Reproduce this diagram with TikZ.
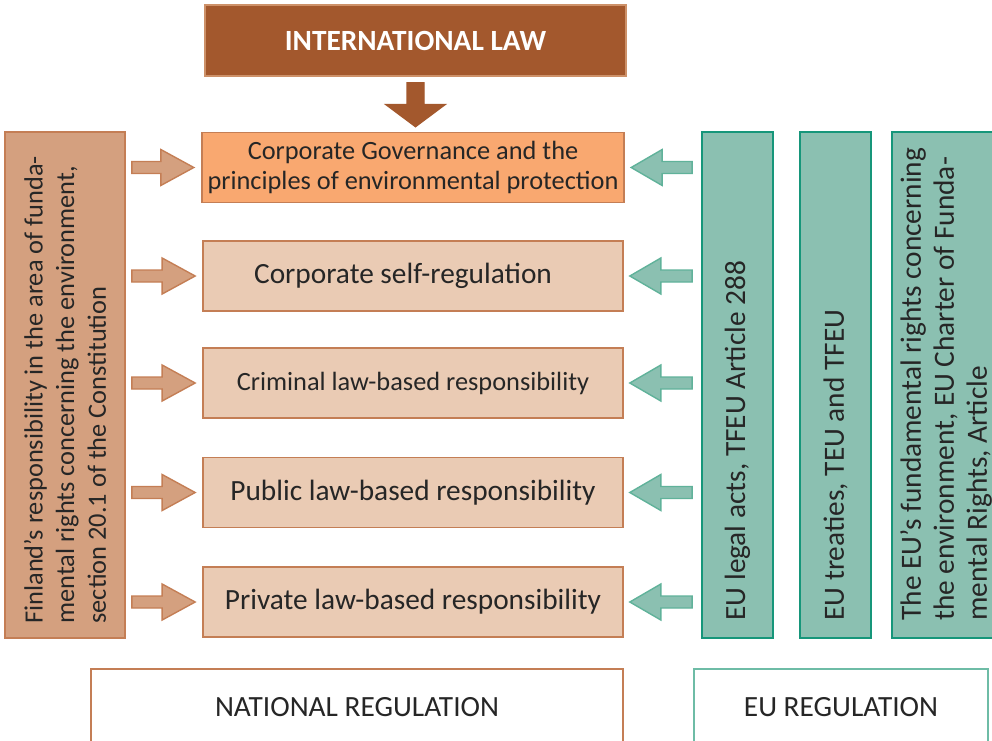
\documentclass[tikz,border=0pt]{standalone}
\usepackage{fontspec}
\setmainfont{Carlito}
\usetikzlibrary{positioning, calc}
\definecolor{intlcol}{RGB}{163, 88, 45}
\definecolor{intledgecol}{RGB}{205, 145, 105}
\definecolor{govcol}{RGB}{249, 168, 112}
\definecolor{rowcol}{RGB}{234, 203, 180}
\definecolor{rowedgecol}{RGB}{196, 126, 85}
\definecolor{fincol}{RGB}{212, 160, 127}
\definecolor{eucol}{RGB}{139, 192, 177}
\definecolor{euedgecol}{RGB}{22, 150, 122}
\definecolor{euarrowcol}{RGB}{96, 178, 154}
\definecolor{eulightcol}{RGB}{110, 188, 166}
\definecolor{textcol}{RGB}{38, 38, 38}

% block arrows between two nodes
\newcommand{\toright}[2]{%
  \filldraw[finarrow] let \p1=(#1), \p2=(#2) in
    (\x1+0.12cm,\y2+0.12cm) -- (\x2-0.80cm,\y2+0.12cm) -- (\x2-0.80cm,\y2+0.36cm) -- (\x2-0.14cm,\y2)
    -- (\x2-0.80cm,\y2-0.36cm) -- (\x2-0.80cm,\y2-0.12cm) -- (\x1+0.12cm,\y2-0.12cm) -- cycle;}
\newcommand{\toleft}[2]{%
  \filldraw[euarrow] let \p1=(#1), \p2=(#2) in
    (\x1-0.18cm,\y2+0.12cm) -- (\x2+0.74cm,\y2+0.12cm) -- (\x2+0.74cm,\y2+0.36cm) -- (\x2+0.12cm,\y2)
    -- (\x2+0.74cm,\y2-0.36cm) -- (\x2+0.74cm,\y2-0.12cm) -- (\x1-0.18cm,\y2-0.12cm) -- cycle;}
\newcommand{\todown}[2]{%
  \filldraw[intlarrow] let \p1=(#1), \p2=(#2) in
    (\x1-0.17cm,\y1-0.12cm) -- (\x1-0.17cm,\y2+0.54cm) -- (\x1-0.59cm,\y2+0.54cm) -- (\x1,\y2+0.10cm)
    -- (\x1+0.59cm,\y2+0.54cm) -- (\x1+0.17cm,\y2+0.54cm) -- (\x1+0.17cm,\y1-0.12cm) -- cycle;}

\begin{document}
\begin{tikzpicture}[
    x=0.02cm, y=-0.02cm,
    big/.style={font=\fontsize{16.7}{19}\selectfont},
    small/.style={font=\fontsize{15}{18}\selectfont},
    base/.style={line width=1pt, text=textcol, big, align=center},
    intl/.style={base, draw=intledgecol, fill=intlcol, text=white, font=\fontsize{16.7}{19}\selectfont\bfseries, minimum width=8.42cm, minimum height=1.42cm},
    row/.style={base, draw=rowedgecol, fill=rowcol, minimum width=8.4cm, minimum height=1.40cm},
    finbox/.style={base, draw=rowedgecol, fill=fincol, rotate=90, minimum width=10.12cm, minimum height=2.4cm},
    eubox/.style={base, draw=euedgecol, fill=eucol, rotate=90, minimum width=10.12cm, minimum height=1.42cm},
    vtext/.style={text=textcol, big, align=left, rotate=90, inner sep=0pt, anchor=west},
    regbox/.style={base, fill=white, minimum height=1.52cm},
    finarrow/.style={fill=fincol, draw=rowedgecol, line width=0.8pt},
    euarrow/.style={fill=eucol, draw=euarrowcol, line width=0.8pt},
    intlarrow/.style={fill=intlcol, draw=intlcol, line width=0.8pt}
]
    \useasboundingbox (0,0) rectangle (992,741);
    \clip (0,0) rectangle (992,741);

    % Top
    \node[intl] (intl) at (415.5, 40.5) {INTERNATIONAL LAW};

    % Middle column
    \node[row, fill=govcol, font=\fontsize{15}{17.6}\selectfont] (r1) at (413, 167.5) {Corporate Governance and the\\principles of environmental protection};
    \node[row] (r2) at (413, 276) {Corporate self-regulation\hspace*{0.4cm}};
    \node[row, small] (r3) at (413, 383) {Criminal law-based responsibility};
    \node[row] (r4) at (413, 492.5) {Public law-based responsibility};
    \node[row] (r5) at (413, 602) {Private law-based responsibility};

    % National side
    \node[finbox] (fin) at (65, 385) {};
    \node[vtext, small] (fintext) at ($(fin.west)+(0,0.30cm)$) {Finland’s responsibility in the area of funda-\\mental rights concerning the environment,\\section 20.1 of the Constitution};

    % EU side
    \node[eubox] (eu1) at (737.5, 385) {};
    \node[eubox] (eu2) at (835.5, 385) {};
    \node[eubox, minimum height=2.16cm] (eu3) at (946, 385) {};
    \node[vtext] (eu1text) at ($(eu1.west)+(0,0.36cm)$) {EU legal acts, TFEU Article 288};
    \node[vtext] (eu2text) at ($(eu2.west)+(0,0.36cm)$) {EU treaties, TEU and TFEU};
    \node[vtext, font=\fontsize{16.7}{18.8}\selectfont] (eu3text) at ($(eu3.west)+(0,0.36cm)$) {The EU’s fundamental rights concerning\\the environment, EU Charter of Funda-\\mental Rights, Article};

    % Bottom
    \node[regbox, draw=rowedgecol, minimum width=10.64cm] (nat) at (357, 707) {NATIONAL REGULATION};
    \node[regbox, draw=eulightcol, minimum width=5.88cm] (eu) at (841, 707) {EU REGULATION};

    % Arrows
    \todown{intl.south}{r1.north}
    \foreach \r in {r1, r2, r3, r4, r5} {
        \toright{fin.south}{\r.west}
        \toleft{eu1.north}{\r.east}
    }
\end{tikzpicture}
\end{document}
